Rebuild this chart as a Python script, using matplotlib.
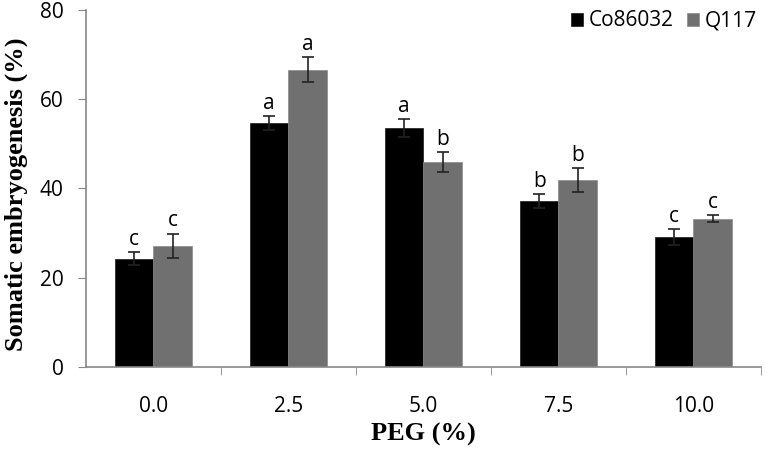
import numpy as np
import matplotlib.pyplot as plt

peg = ['0.0', '2.5', '5.0', '7.5', '10.0']
co86032 = [24.3, 54.7, 53.5, 37.2, 29.1]
co86032_err = [1.5, 1.5, 2.0, 1.6, 1.8]
q117 = [27.2, 66.6, 45.9, 41.9, 33.2]
q117_err = [2.7, 2.8, 2.3, 2.6, 0.8]
co_letters = ['c', 'a', 'a', 'b', 'c']
q_letters = ['c', 'a', 'b', 'b', 'c']

fig = plt.figure(figsize=(7.67, 4.53), dpi=100)
ax = fig.add_axes([0.112, 0.19, 0.88, 0.788])

x = np.arange(len(peg))
w = 0.285
err_kw = dict(ecolor='#222222', elinewidth=1.2, capsize=4.5, capthick=1.2)
ax.bar(x - w / 2, co86032, w, yerr=co86032_err, color='#000000',
       edgecolor='#1a1a1a', linewidth=0.5, error_kw=err_kw, label='Co86032')
ax.bar(x + w / 2, q117, w, yerr=q117_err, color='#707070',
       edgecolor='#8a8a8a', linewidth=0.5, error_kw=err_kw, label='Q117')

# significance letters
for i in range(len(peg)):
    ax.text(x[i] - w / 2, co86032[i] + co86032_err[i] + 0.5, co_letters[i],
            ha='center', va='bottom', fontsize=15, family='Open Sans')
    ax.text(x[i] + w / 2, q117[i] + q117_err[i] + 0.5, q_letters[i],
            ha='center', va='bottom', fontsize=15, family='Open Sans')

ax.set_xlim(-0.5, 4.5)
ax.set_ylim(0, 80)
ax.set_yticks([0, 20, 40, 60, 80])
ax.set_xticks(x)
ax.set_xticklabels(peg)
ax.set_xticks(np.arange(0.5, 4.6, 1), minor=True)
ax.tick_params(axis='x', which='major', length=0, pad=21)
ax.tick_params(axis='x', which='minor', length=6, color='#888888')
ax.tick_params(axis='y', length=6, color='#888888', pad=10)
for lab in ax.get_xticklabels() + ax.get_yticklabels():
    lab.set_family('Open Sans')
    lab.set_fontsize(15)

for s in ['top', 'right']:
    ax.spines[s].set_visible(False)
for s in ['left', 'bottom']:
    ax.spines[s].set_color('#888888')
    ax.spines[s].set_linewidth(1.2)

ax.set_ylabel('Somatic embryogenesis (%)', family='Liberation Serif',
              fontweight='bold', fontsize=19)
ax.yaxis.set_label_coords(-0.086, 0.483)
ax.set_xlabel('PEG (%)', family='Liberation Serif', fontweight='bold',
              fontsize=19)
ax.xaxis.set_label_coords(0.5, -0.158)

ax.legend(loc='center right', bbox_to_anchor=(757 / 767, 1 - 21 / 453),
          bbox_transform=fig.transFigure, ncol=2, frameon=False,
          borderpad=0, borderaxespad=0,
          prop={'family': 'Open Sans', 'size': 15}, handlelength=0.58,
          handleheight=0.58, handletextpad=0.3, columnspacing=0.6)

fig.savefig('out.png', dpi=100)
